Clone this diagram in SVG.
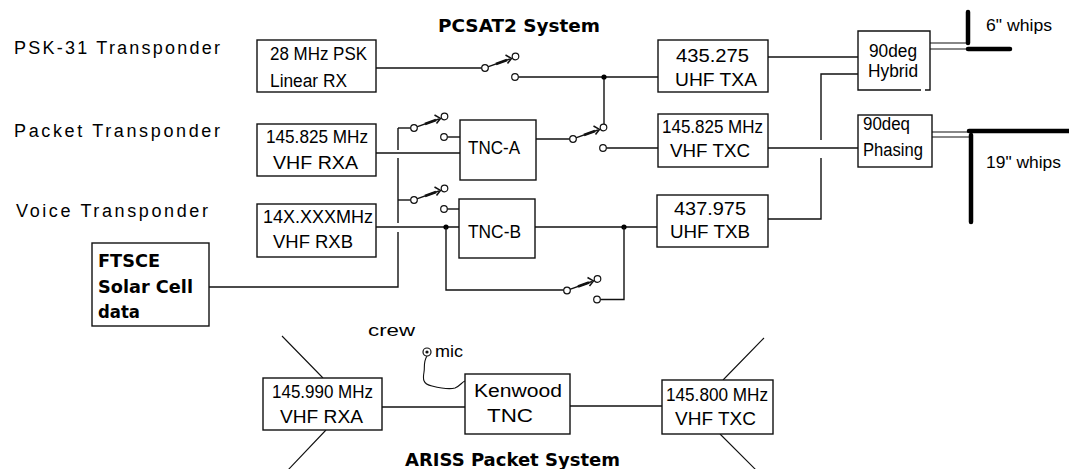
<svg xmlns="http://www.w3.org/2000/svg" xmlns:xlink="http://www.w3.org/1999/xlink" width="1069" height="469" viewBox="0 0 1069 469">
<style>
.bg{fill:#fff}
.box{fill:#fff;stroke:#111;stroke-width:1.4}
.w{fill:none;stroke:#111;stroke-width:1.4}
.thin{fill:none;stroke:#111;stroke-width:1.1}
.thick{fill:none;stroke:#000;stroke-width:4.5;stroke-linecap:round}
.dot{fill:#000}
.t{font-family:"Liberation Sans",Arial,Helvetica,sans-serif;font-size:18px;fill:#000}
.lab{font-family:"Liberation Sans",Arial,Helvetica,sans-serif;font-size:18px;fill:#000}
.b{font-family:"DejaVu Sans","Liberation Sans",Verdana,sans-serif;font-size:18px;font-weight:bold;fill:#000}
.sm{font-family:"Liberation Sans",Arial,Helvetica,sans-serif;font-size:17px;fill:#000}
.sc{fill:#fff;stroke:#111;stroke-width:1.2}
</style>
<defs>
<g id="sw">
<line x1="2.8" y1="-1.2" x2="25" y2="-9" stroke="#111" stroke-width="1.4"/>
<line x1="11" y1="-4" x2="22" y2="-8" stroke="#111" stroke-width="2.8"/>
<polyline points="20.5,-13 26.5,-9.6 22.5,-4.5" fill="none" stroke="#111" stroke-width="1.5"/>
<circle class="sc" cx="0" cy="0" r="3.3"/>
<circle class="sc" cx="30.5" cy="-11.5" r="3.3"/>
<circle class="sc" cx="30" cy="9" r="3.3"/>
</g>
</defs>
<rect class="bg" x="0" y="0" width="1069" height="469"/>

<g id="labels">
<text class="lab" x="14" y="54" textLength="206" lengthAdjust="spacing">PSK-31 Transponder</text>
<text class="lab" x="14" y="137" textLength="206" lengthAdjust="spacing">Packet Transponder</text>
<text class="lab" x="16" y="217" textLength="192" lengthAdjust="spacing">Voice Transponder</text>
<text class="b" x="438" y="32" textLength="162" lengthAdjust="spacingAndGlyphs">PCSAT2 System</text>
<text class="b" x="405" y="466" textLength="215" lengthAdjust="spacingAndGlyphs">ARISS Packet System</text>
<text class="sm" x="986" y="31" textLength="66" lengthAdjust="spacingAndGlyphs">6" whips</text>
<text class="sm" x="986" y="168" textLength="75" lengthAdjust="spacingAndGlyphs">19" whips</text>
<text class="sm" x="368" y="336" textLength="47" lengthAdjust="spacingAndGlyphs">crew</text>
<text class="sm" x="435" y="357" textLength="28" lengthAdjust="spacingAndGlyphs">mic</text>
</g>

<g id="connectors">
<path class="w" d="M376,68 H481.7"/>
<path class="w" d="M518.3,77 H658"/>
<path class="w" d="M604,77 V124.2"/>
<circle class="dot" cx="604" cy="77" r="2.6"/>
<path class="w" d="M536,139 H569.7"/>
<path class="w" d="M606.3,148 H658"/>
<path class="w" d="M376,153 H460"/>
<path class="w" d="M398,128 V150 M398,158 V223 M398,232 V287 H209"/>
<path class="w" d="M398,128 H410.7"/>
<path class="w" d="M398,200 H410.7"/>
<path class="w" d="M447.3,137 H460"/>
<path class="w" d="M447.3,209 H459"/>
<path class="w" d="M376,227 H459"/>
<circle class="dot" cx="446" cy="227" r="2.6"/>
<path class="w" d="M446,227 V290 H563.7"/>
<path class="w" d="M535,227 H657"/>
<circle class="dot" cx="624" cy="227" r="2.6"/>
<path class="w" d="M600.3,299.5 H624 V227"/>
<path class="w" d="M768,57 H858"/>
<path class="w" d="M858,74 H821 V140 M821,158 V219 H768"/>
<path class="w" d="M768,148 H858"/>
<path class="thin" d="M930,43 H968 M930,49 H968"/>
<path class="thick" d="M968,12 V43"/>
<path class="thick" d="M968,49 H1010"/>
<path class="thin" d="M932,132 H969 M932,137 H969"/>
<path class="thick" d="M969,131 H1072"/>
<path class="thick" d="M971,135 V222"/>
<path class="w" d="M382,407 H465"/>
<path class="w" d="M570,406 H662"/>
<path class="thin" d="M323,378 L282,336 M326,430 L288,470 M723,380 L764,338 M720,434 L756,470"/>
<path class="thin" d="M427,356 C423,362 425,368 424,372 C423,378 422,384 432,386 C440,388 448,390 455,388 C460,386 462,382 465,381"/>
</g>

<g id="switch1"><use xlink:href="#sw" href="#sw" x="485" y="68"/></g>
<g id="switch2"><use xlink:href="#sw" href="#sw" x="414" y="128"/></g>
<g id="switch3"><use xlink:href="#sw" href="#sw" x="414" y="200"/></g>
<g id="switch4"><use xlink:href="#sw" href="#sw" x="573" y="139"/></g>
<g id="switch5"><use xlink:href="#sw" href="#sw" x="567" y="290.5"/></g>

<g id="mic">
<circle cx="427" cy="352" r="4" fill="#fff" stroke="#111" stroke-width="1.2"/>
<circle cx="427" cy="352" r="1.6" fill="#111"/>
</g>

<g id="psk-rx">
<rect class="box" x="257" y="40" width="119" height="52"/>
<text class="t" x="270" y="60" textLength="97" lengthAdjust="spacingAndGlyphs">28 MHz PSK</text>
<text class="t" x="270" y="87" textLength="77" lengthAdjust="spacingAndGlyphs">Linear RX</text>
</g>
<g id="vhf-rxa">
<rect class="box" x="257" y="124" width="119" height="52"/>
<text class="t" x="266" y="143" textLength="102" lengthAdjust="spacingAndGlyphs">145.825 MHz</text>
<text class="t" x="273" y="169" textLength="85" lengthAdjust="spacingAndGlyphs">VHF RXA</text>
</g>
<g id="vhf-rxb">
<rect class="box" x="257" y="204" width="119" height="53"/>
<text class="t" x="263" y="223" textLength="110" lengthAdjust="spacingAndGlyphs">14X.XXXMHz</text>
<text class="t" x="273" y="248" textLength="80" lengthAdjust="spacingAndGlyphs">VHF RXB</text>
</g>
<g id="ftsce">
<rect class="box" x="92" y="243" width="117" height="83"/>
<text class="b" x="98" y="267" textLength="62" lengthAdjust="spacingAndGlyphs">FTSCE</text>
<text class="b" x="98" y="293" textLength="95" lengthAdjust="spacingAndGlyphs">Solar Cell</text>
<text class="b" x="98" y="318" textLength="42" lengthAdjust="spacingAndGlyphs">data</text>
</g>
<g id="tnc-a">
<rect class="box" x="460" y="120" width="76" height="60"/>
<text class="t" x="468" y="154" textLength="52" lengthAdjust="spacingAndGlyphs">TNC-A</text>
</g>
<g id="tnc-b">
<rect class="box" x="459" y="199" width="76" height="59"/>
<text class="t" x="468" y="238" textLength="53" lengthAdjust="spacingAndGlyphs">TNC-B</text>
</g>
<g id="uhf-txa">
<rect class="box" x="658" y="40" width="110" height="52"/>
<text class="t" x="676" y="62" textLength="73" lengthAdjust="spacingAndGlyphs">435.275</text>
<text class="t" x="675" y="86" textLength="82" lengthAdjust="spacingAndGlyphs">UHF TXA</text>
</g>
<g id="vhf-txc">
<rect class="box" x="658" y="114" width="110" height="53"/>
<text class="t" x="662" y="133" textLength="101" lengthAdjust="spacingAndGlyphs">145.825 MHz</text>
<text class="t" x="670" y="157" textLength="80" lengthAdjust="spacingAndGlyphs">VHF TXC</text>
</g>
<g id="uhf-txb">
<rect class="box" x="657" y="195" width="111" height="52"/>
<text class="t" x="674" y="215" textLength="72" lengthAdjust="spacingAndGlyphs">437.975</text>
<text class="t" x="670" y="238" textLength="80" lengthAdjust="spacingAndGlyphs">UHF TXB</text>
</g>
<g id="hybrid">
<path class="w" d="M921,90 H858 V31 H930 V90 H925" fill="#fff"/>
<text class="t" x="869" y="57" textLength="48" lengthAdjust="spacingAndGlyphs">90deg</text>
<text class="t" x="868" y="77" textLength="50" lengthAdjust="spacingAndGlyphs">Hybrid</text>
</g>
<g id="phasing">
<rect class="box" x="858" y="115" width="74" height="52"/>
<text class="t" x="863" y="130" textLength="47" lengthAdjust="spacingAndGlyphs">90deq</text>
<text class="t" x="863" y="156" textLength="60" lengthAdjust="spacingAndGlyphs">Phasing</text>
</g>
<g id="ariss-rxa">
<rect class="box" x="263" y="378" width="119" height="52"/>
<text class="t" x="272" y="398" textLength="101" lengthAdjust="spacingAndGlyphs">145.990 MHz</text>
<text class="t" x="280" y="423" textLength="83" lengthAdjust="spacingAndGlyphs">VHF RXA</text>
</g>
<g id="kenwood-tnc">
<rect class="box" x="465" y="374" width="105" height="60"/>
<text class="t" x="474" y="397" textLength="88" lengthAdjust="spacingAndGlyphs">Kenwood</text>
<text class="t" x="487" y="422" textLength="46" lengthAdjust="spacingAndGlyphs">TNC</text>
</g>
<g id="ariss-txc">
<rect class="box" x="662" y="380" width="111" height="54"/>
<text class="t" x="666" y="401" textLength="102" lengthAdjust="spacingAndGlyphs">145.800 MHz</text>
<text class="t" x="675" y="425" textLength="81" lengthAdjust="spacingAndGlyphs">VHF TXC</text>
</g>
</svg>
